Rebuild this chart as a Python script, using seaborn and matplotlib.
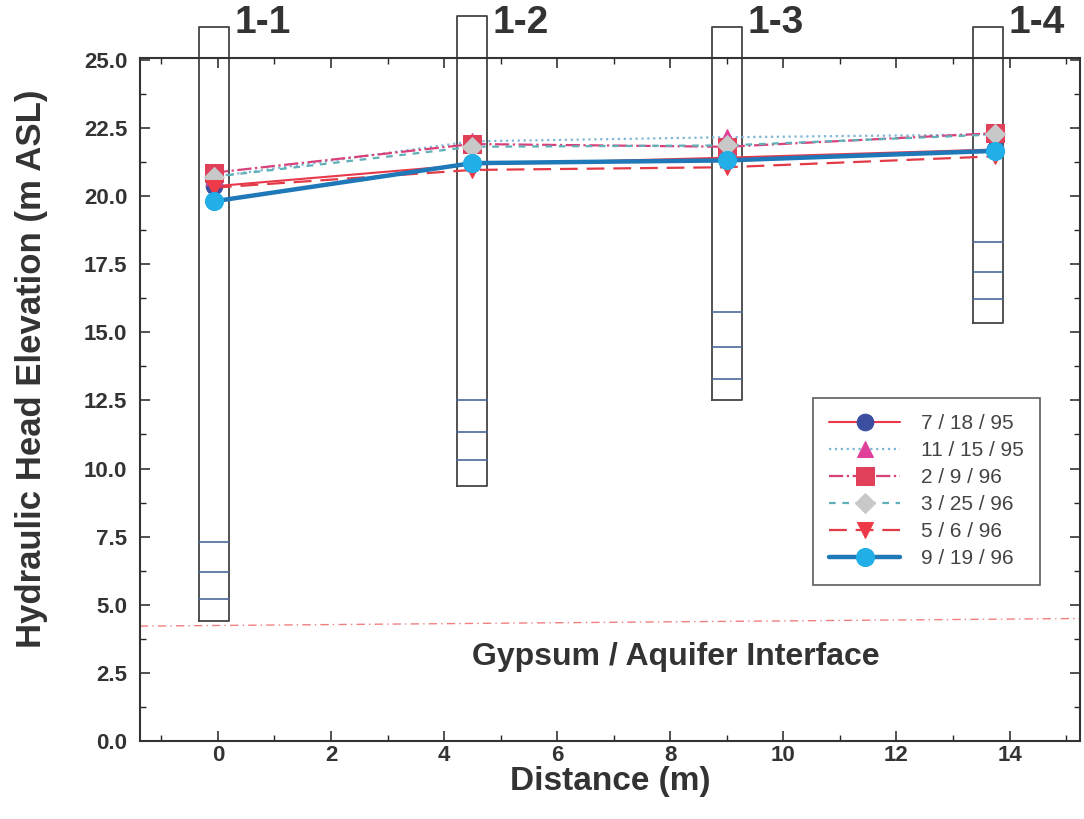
import numpy as np
import pandas as pd
import matplotlib
matplotlib.use("Agg")
import matplotlib.pyplot as plt
import seaborn as sns
from matplotlib.ticker import MultipleLocator, FormatStrFormatter

# ---------------- data ----------------
well_names = ["1-1", "1-2", "1-3", "1-4"]
well_x = [-0.07, 4.5, 9.0, 13.62]
well_top = [26.2, 26.6, 26.2, 26.2]
well_bottom = [4.4, 9.35, 12.5, 15.35]
screens = [[7.3, 6.2, 5.2], [12.5, 11.35, 10.3], [15.75, 14.45, 13.3], [18.3, 17.2, 16.2]]

dates = ["7 / 18 / 95", "11 / 15 / 95", "2 / 9 / 96", "3 / 25 / 96", "5 / 6 / 96", "9 / 19 / 96"]
head_x = [-0.07, 4.5, 9.0, 13.75]
head_0718_95 = [20.35, 21.15, 21.4, 21.7]
head_1115_95 = [20.7, 22.0, 22.15, 22.25]
head_0209_96 = [20.85, 21.9, 21.8, 22.3]
head_0325_96 = [20.7, 21.8, 21.85, 22.25]
head_0506_96 = [20.3, 20.95, 21.05, 21.45]
head_0919_96 = [19.8, 21.2, 21.3, 21.65]
heads = [head_0718_95, head_1115_95, head_0209_96, head_0325_96, head_0506_96, head_0919_96]

interface_x = [-1.38, 15.24]
interface_y = [4.22, 4.5]
interface_label = "Gypsum / Aquifer Interface"

# ---------------- styles ----------------
line_colors = ["#e8384a", "#7fb6d6", "#d8407a", "#5fb0b8", "#e23a46", "#1f78b8"]
marker_face = ["#3b4ea0", "#e0409a", "#e0405a", "#c8c8c8", "#ee3a48", "#22aee6"]
markers = ["o", "^", "s", "D", "v", "o"]
msizes = [12, 12, 13, 10, 12, 13]
lstyles = ["-", ":", "-.", (0, (3, 3)), (0, (8, 4)), "-"]
lwidths = [1.5, 1.6, 1.6, 1.6, 1.6, 3.2]

sns.set_theme(style="white")
plt.rcParams["font.family"] = ["Liberation Sans", "DejaVu Sans"]

fig = plt.figure(figsize=(10.84, 8.19), dpi=100)
ax = fig.add_axes([0.129, 0.095, 0.867, 0.834])

df = pd.DataFrame({
    "x": np.tile(head_x, len(dates)),
    "head": np.concatenate(heads),
    "date": np.repeat(dates, len(head_x)),
})

# wells
for wx, top, bot, scr, name in zip(well_x, well_top, well_bottom, screens, well_names):
    w = 0.265
    ax.plot([wx - w, wx + w, wx + w, wx - w, wx - w], [bot, bot, top, top, bot],
            color="#444444", lw=1.3, clip_on=False, zorder=2)
    for s in scr:
        ax.plot([wx - w, wx + w], [s, s], color="#4a6a9a", lw=1.2, zorder=2)
    ax.text(wx + 0.36, 25.68, name, fontsize=28, fontweight="bold", color="#333333",
            ha="left", va="bottom", clip_on=False)

# interface
ax.plot(interface_x, interface_y, color="#f08080", lw=1.0, ls=(0, (6, 3, 1, 3)), zorder=1)
ax.text(8.1, 3.1, interface_label, fontsize=23, fontweight="bold", color="#333333",
        ha="center", va="center")

for i, d in enumerate(dates):
    sub = df[df["date"] == d]
    sns.lineplot(data=sub, x="x", y="head", ax=ax, color=line_colors[i],
                 linestyle=lstyles[i], linewidth=lwidths[i], marker=markers[i],
                 markersize=msizes[i], markerfacecolor=marker_face[i],
                 markeredgecolor=marker_face[i], label=d, zorder=4 + i,
                 estimator=None, sort=False)

ax.set_xlim(-1.38, 15.24)
ax.set_ylim(0, 25.05)
ax.xaxis.set_major_locator(MultipleLocator(2))
ax.yaxis.set_major_locator(MultipleLocator(2.5))
ax.yaxis.set_minor_locator(MultipleLocator(1.25))
ax.xaxis.set_minor_locator(MultipleLocator(1))
ax.yaxis.set_major_formatter(FormatStrFormatter("%.1f"))
ax.tick_params(axis="both", which="major", direction="in", length=7, width=1.2,
               labelsize=16, colors="#333333", right=True, top=True,
               bottom=True, left=True)
ax.tick_params(axis="y", which="major", pad=9)
ax.tick_params(axis="x", which="major", pad=3)
ax.tick_params(axis="both", which="minor", direction="in", length=4, width=1.0,
               right=True, top=True, bottom=True, left=True)
for lbl in ax.get_xticklabels() + ax.get_yticklabels():
    lbl.set_fontweight("bold")
for sp in ax.spines.values():
    sp.set_color("#333333")
    sp.set_linewidth(1.5)

ax.set_xlabel("Distance (m)", fontsize=24, fontweight="bold", color="#333333")
ax.xaxis.set_label_coords(0.5, -0.037)
ax.set_ylabel("Hydraulic Head Elevation (m ASL)", fontsize=25, fontweight="bold",
              color="#333333")
ax.yaxis.set_label_coords(-0.098, 0.545)

leg = ax.legend(loc="upper left", bbox_to_anchor=(0.716, 0.0, 0.2415, 0.503),
                mode="expand", fontsize=15,
                frameon=True, fancybox=False, edgecolor="#333333", handlelength=3.4,
                labelspacing=0.38, borderpad=0.8, handletextpad=1.0, borderaxespad=0)
leg.get_frame().set_linewidth(1.2)
for t in leg.get_texts():
    t.set_color("#444444")

fig.savefig("out.png", dpi=100)
